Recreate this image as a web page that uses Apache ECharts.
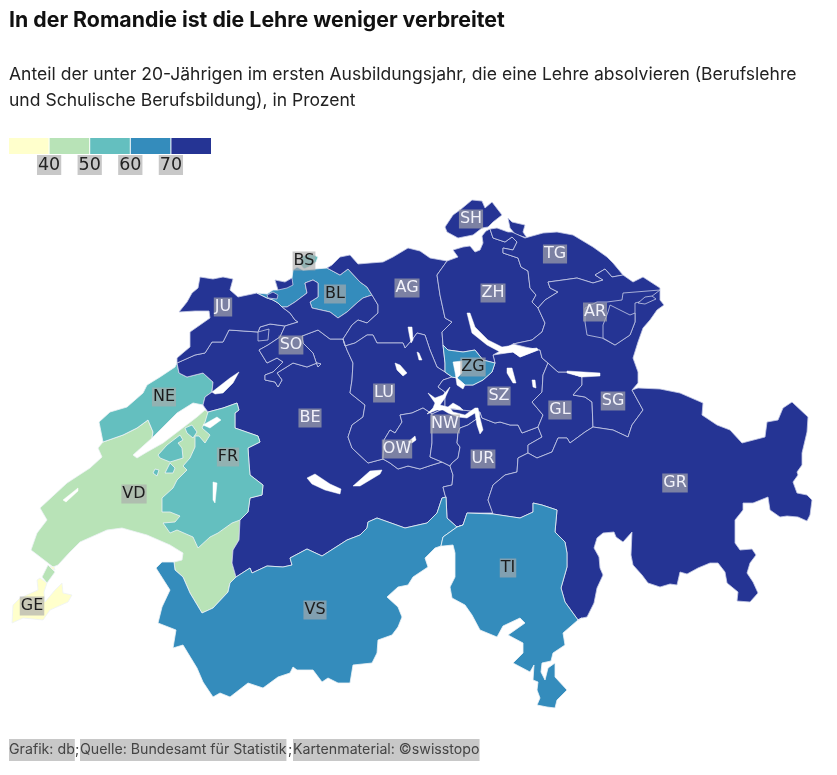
<!DOCTYPE html>
<html><head><meta charset="utf-8">
<style>html,body{margin:0;padding:0;background:#fff}#c{width:837px;height:775px}</style>
<script src="https://cdn.jsdelivr.net/npm/echarts@6/dist/echarts.min.js"></script>
</head><body><div id="c"></div>
<script>
// ---- data ----
const cantons = ['GE','VD','NE','FR','BS','BL','VS','TI','ZG','JU','SO','BE','AG','LU','OW','NW','UR','SZ','GL','ZH','SH','TG','SG','AR','GR'];
const shares  = [  37,  46,  55,  56,  57,  66,  67,  66,  68,  74,  76,  78,  76,  77,  78,  78,  80,  76,  78,  72,  77,  79,  78,  78,  77];
const thresholds = [40, 50, 60, 70];
const tickLabels = ['40','50','60','70'];
const palette = ['#ffffcc','#b8e3b7','#64bfbf','#348cbc','#253494'];
const darkLabels = ['JU','SO','BE','AG','LU','OW','NW','UR','SZ','GL','ZH','SH','TG','SG','AR','GR'];

// ---- label anchors of the cantons (map units) ----
const anchors = {GE:[32,606],VD:[134,494],NE:[164,397],FR:[228,457],BS:[304,261],BL:[335,294],VS:[315,610],TI:[508,568],ZG:[473,367],
 JU:[223,307],SO:[291,345],BE:[310,418],AG:[407,288],LU:[384,393],OW:[397,449],NW:[445,424],UR:[483,459],SZ:[499,396],GL:[560,410],
 ZH:[493,293],SH:[471,219],TG:[555,254],SG:[613,401],AR:[595,312],GR:[675,483]};

// ---- outline of the map (shared borders) ----
const P = s => s.trim().split(/\s+/).map(p => p.split(',').map(Number));
const R = a => a.slice().reverse();
const ju_out = P('177,363 177,358 184,352 190,347 190,332 200,325 210,318 209,311 195,311 179,312 187,302 192,293 198,288 200,277 213,279 223,277 233,279 230,290 238,297 257,293');
const ju_east = P('257,293 267,298 273,300 278,303 282,307 290,313 295,320 298,322 285,326');
const ju_be = P('285,326 270,324 260,327 258,332 229,330 223,342 212,342 205,353 195,355 177,363');
const so_be = P('285,326 280,337 268,345 259,350 267,363 277,358 283,362 273,372 265,375 265,380 275,382 278,387 282,380 277,373 293,363 307,367 317,363 321,364 318,367 316,362 313,353 303,343 302,336 318,330 330,339 343,339');
const bl_south = P('372,295 363,298 358,302 347,312 338,318 330,312 312,308 310,302 318,297 318,283 313,280 305,283 307,293 295,302 287,307 282,307');
const ag_bl = P('327,268 340,275 348,269 360,282 367,287 372,295');
const so_ag = P('372,295 378,305 378,313 367,323 358,320 352,325 343,339');
const ag_out = P('327,268 332,265 340,257 350,255 358,264 370,263 383,262 393,257 408,248 420,251 430,258 447,261');
const ag_zh = P('447,261 437,275 440,295 445,318 452,322 442,332 443,345');
const ag_lu = P('343,339 345,346 355,343 367,335 373,335 377,343 390,343 403,343 405,348 412,340 417,333 425,335 430,350 437,367 445,372');
const zg_top = P('443,345 448,350 463,352 475,350 483,360 495,363');
const zg_west = P('443,345 445,363 445,372 452,377');
const zg_south = P('495,363 492,372 483,380 473,385 465,385 457,378 452,377');
const lu_be = P('343,339 347,350 353,363 352,380 350,393 365,405 363,417 352,425 348,437 352,448 368,463 383,459');
const lu_ow = P('383,459 384,440 390,430 395,433 402,422 400,415 412,413 423,408 432,414');
const lu_sz = P('452,377 443,380 438,387 445,392 445,408');
const ow_be = P('383,459 390,463 398,469 408,466 420,469 432,465 442,462 450,466');
const ow_nw = P('432,414 432,443 430,457 442,462');
const nw_top = P('432,414 445,408 462,410 480,412');
const nw_ur = P('480,412 478,418 468,425 460,428 458,433 457,443 460,447 458,458 452,463 450,466');
const ur_be = P('450,466 453,475 452,485 443,487 445,495 446,497');
const ur_vs = P('446,497 447,518 457,527 463,525');
const sz_ur = P('480,412 482,418 495,423 500,422 510,425 518,425 522,433 538,427');
const ur_gl = P('538,427 542,437 528,445 528,453');
const ur_gr = P('528,453 518,458 517,472 505,475 493,485 488,500 493,513');
const gl_gr = P('528,453 537,458 552,452 558,438 567,438 570,443 585,432 593,427');
const sg_gr = P('593,427 613,430 628,437 632,425 643,410 632,390');
const gl_sg = P('593,427 592,402 585,397 573,395 582,385 582,377 567,372 558,372 548,363');
const sz_gl = P('538,427 543,415 532,402 542,392 543,375 548,363');
const sz_sg = P('548,363 542,358 540,350');
const lake_sz = P('540,350 538,350 520,357 513,352 493,355 495,363');
const sg_lake = P('540,350 525,347 513,344');
const zh_lake = P('513,344 502,350 493,355 495,363');
const zh_sg = P('538,308 545,323 542,332 532,340 513,344');
const zh_tg = P('490,229 493,238 505,242 512,237 517,242 513,250 503,248 503,253 518,258 521,267 528,271 530,288 536,295 532,302 538,308');
const zh_out = P('447,261 458,257 453,250 463,247 470,246 475,252 480,250 483,243 482,236 486,231 490,229');
const tg_out = P('490,229 497,228 508,232 512,232 525,238 543,233 557,232 573,235 593,247 607,257 613,263 623,275');
const tg_sg = P('538,308 545,300 558,292 550,288 548,282 563,280 577,278 593,283 603,280 595,275 605,269 612,277 623,275');
const sg_out = P('623,275 633,282 643,277 660,288 660,300 664,305 657,310 650,320 643,328 638,342 633,358 638,372 638,383 632,390');
const gr_out = P('632,390 638,388 660,389 680,393 703,403 702,415 717,425 730,430 742,443 765,437 767,422 778,420 783,408 792,402 808,417 807,432 802,453 802,465 797,472 798,475 793,482 797,493 807,495 812,500 810,515 807,521 798,517 787,516 780,517 770,510 768,497 763,499 753,503 743,503 743,510 735,520 735,543 740,550 752,549 756,555 750,563 747,573 753,582 758,593 750,602 737,601 738,592 727,583 725,572 718,563 710,563 698,568 687,574 680,572 677,585 670,584 660,587 648,583 642,575 633,565 631,555 632,532 623,542 616,537 614,532 603,533 597,538 594,548 599,557 600,568 603,575 597,588 594,603 587,617 582,618');
const ti_gr = P('582,618 578,620 565,602 561,588 567,567 567,553 565,542 555,532 557,510 542,505 533,503 533,512 520,518 493,514 493,513');
const ti_top = P('493,513 467,513 463,525');
const ti_out = P('578,620 563,633 565,645 553,653 551,661 542,663 541,672 545,680 548,668 555,663 555,677 567,690 557,700 555,708 547,707 537,705 540,698 537,690 538,682 533,680 534,665 530,672 513,663 523,653 523,643 508,635 525,623 520,618 503,626 497,637 480,630 472,615 465,605 452,598 450,587 455,577 455,553 453,545 443,546 441,546');
const ti_vs = P('441,546 443,537 457,527');
const vs_out = P('441,546 435,548 425,558 428,567 413,577 408,585 398,587 387,597 398,607 402,617 398,627 392,635 378,640 377,653 372,663 353,665 350,683 338,683 328,678 322,682 313,670 297,670 293,667 290,673 278,677 263,688 248,683 230,697 220,693 213,697 203,682 197,668 183,645 173,648 176,630 158,623 162,607 170,590 156,568 162,562 174,562');
const vs_vd = P('174,562 175,570 183,577 190,593 202,613 213,608 228,592 230,583 236,577');
const vs_be = P('236,577 250,568 252,573 267,566 283,567 292,565 290,558 307,549 322,556 347,540 360,535 367,528 368,522 377,518 405,528 427,523 437,513 442,498 446,497');
const vd_be = P('236,577 232,563 233,550 239,540 240,520');
const fr_be = P('240,520 248,512 250,498 262,495 263,485 250,475 249,463 248,448 260,442 258,436 235,428 235,413 239,410 237,403 223,408 208,412');
const fr_vd = P('240,520 232,523 218,533 210,537 198,548 193,537 177,530 170,533 163,523 175,522 180,516 170,512 162,512 162,498 173,488 177,480 187,470 183,466 190,458 195,447 195,436 199,436 205,443 210,435 202,428 205,422 208,412');
const be_ne = P('208,412 205,408 203,405 205,397 212,392 213,382 203,373 187,377 179,373 177,363');
const ne_lake = P('203,405 193,403 177,413 167,423 157,433 152,438');
const ne_west = P('177,363 175,367 160,377 147,385 143,393 127,407 110,412 99,422 103,442');
const ne_vd = P('103,442 123,435 137,428 148,420 153,432 152,438');
const vd_out = P('103,442 98,448 102,457 90,468 67,483 40,508 47,520 37,533 31,550 48,563 53,567 58,565 70,552 80,542 107,530 122,528 147,535 170,545 183,553 182,560 174,562');
const vd_lake = P('152,438 133,455 137,458 147,452 163,443 180,430 197,417 205,410 208,412');

const shapes = {
 VD:[[...vd_out,...vs_vd.slice(1),...vd_be.slice(1),[215,470],...R(vd_lake),...R(ne_vd).slice(1)], P('42,577 48,565 55,572 47,583')],
 GE:[P('40,578 47,583 44,592 45,602 55,590 62,583 63,593 72,595 68,602 50,610 43,620 23,618 12,623 13,605 20,598 38,590 37,580'), P('50,566 54,567 55,570 52,569')],
 NE:[[...ne_west,...ne_vd.slice(1),...R(ne_lake).slice(1),...P('205,397 212,392 213,382 203,373 187,377 179,373 177,363')]],
 FR:[[...R(fr_be),...fr_vd.slice(1)], P('158,455 167,445 180,435 183,440 178,443 182,448 183,458 170,462 160,458'), P('185,428 192,425 197,432 193,438 187,433'), P('170,463 175,468 173,473 165,473'), P('155,469 159,470 157,476 153,473')],
 BE:[[...R(ju_be),...so_be.slice(1),...lu_be.slice(1),...ow_be.slice(1),...ur_be.slice(1),...R(vs_be).slice(1),...vd_be.slice(1),...fr_be.slice(1),...be_ne.slice(1)], P('219,427 221,427 221,430 219,430')],
 JU:[[...ju_out,...ju_east.slice(1),...ju_be.slice(1)]],
 BL:[[...P('257,293 267,294 273,290 278,290 275,280 285,282 292,278 293,270 297,267 303,270'),...ag_bl,...bl_south.slice(1),...P('278,303 273,300 267,298 257,293')]],
 BS:[P('302,256 312,254 318,257 316,262 311,266 304,269 300,264')],
 SO:[[...R(ju_east).slice(0,5),...R(bl_south).slice(1),...so_ag.slice(1),...R(so_be).slice(1)], P('258,332 269,329 268,340 258,341'), P('275,280 285,282 292,278 293,285 287,288 278,290'), P('267,295 273,292 278,295 277,299 268,298')],
 AG:[[...ag_out,...ag_zh.slice(1),...zg_west.slice(1,3),...R(ag_lu).slice(1),...R(so_ag).slice(1),...R(ag_bl).slice(1)]],
 LU:[[...ag_lu,[452,377],...lu_sz.slice(1),...R(lu_ow),...R(lu_be).slice(1)]],
 OW:[[...lu_ow,...ow_nw.slice(1),...R(ow_be).slice(1)], P('438,440 440,443 447,442 455,445 460,447 458,458 452,463 445,460 440,455')],
 NW:[[...nw_top,...nw_ur.slice(1),[442,462],...R(ow_nw).slice(1)]],
 UR:[[...sz_ur,...ur_gl.slice(1),...ur_gr.slice(1),...ti_top.slice(1),...R(ur_vs).slice(1),...R(ur_be).slice(1),...R(nw_ur).slice(1)]],
 SZ:[[...R(zg_south),...R(lake_sz).slice(1),...R(sz_sg).slice(1),...R(sz_gl).slice(1),...R(sz_ur).slice(1),[462,410],...R(lu_sz)]],
 GL:[[...R(gl_sg),...R(gl_gr).slice(1),...R(ur_gl).slice(1),...sz_gl.slice(1)]],
 ZH:[[...zh_out,...zh_tg.slice(1),...zh_sg.slice(1),...zh_lake.slice(1),...R(zg_top).slice(1),...R(ag_zh).slice(1)]],
 SH:[P('445,227 453,215 460,210 472,200 482,201 485,208 492,202 502,215 493,222 488,227 482,228 473,235 458,238 447,232'), P('508,218 512,222 525,225 523,232 527,238 515,234 510,228')],
 TG:[[...tg_out,...R(tg_sg).slice(1),...R(zh_tg).slice(1)]],
 SG:[[...tg_sg,...sg_out.slice(1),...R(sg_gr).slice(1),...gl_sg.slice(1),...sz_sg.slice(1),...sg_lake.slice(1),...R(zh_sg).slice(1)]],
 AR:[P('585,308 597,302 607,302 622,300 623,293 660,290 647,300 635,303 635,322 630,335 615,345 602,338 587,335 585,322')],
 AI:[P('610,305 630,315 635,313 635,322 630,335 615,345 603,338 603,325 608,312'), P('638,303 645,297 652,296 656,299 645,304')],
 GR:[[...gr_out,...ti_gr.slice(1),...R(ur_gr).slice(1),...gl_gr.slice(1),...sg_gr.slice(1)]],
 VS:[[...vs_out,...vs_vd.slice(1),...vs_be.slice(1),...ur_vs.slice(1),...R(ti_vs)]],
 TI:[[...ti_gr,...ti_top.slice(1),...R(ti_vs),...R(ti_out).slice(1)]],
 ZG:[[...zg_top,...zg_south.slice(1),...R(zg_west).slice(1)]]
};
const lakes = [
 P('467,313 470,313 475,327 488,340 502,347 515,345 520,350 537,348 538,350 520,357 513,352 502,353 487,345 472,333'),
 P('567,371 600,373 600,376 582,377 567,373'),
 P('507,368 512,368 516,383 513,383 507,373'),
 P('532,380 535,380 536,388 533,387'),
 P('395,363 400,365 407,373 403,376 397,370'),
 P('408,327 412,327 413,340 411,343 409,333'),
 P('417,352 419,353 422,360 419,360'),
 P('353,486 370,471 382,470 380,474 360,486'),
 P('307,478 315,474 330,484 341,489 340,494 325,490 312,484'),
 P('408,442 415,436 416,440 412,443'),
 P('453,362 462,361 462,373 457,378 465,385 463,389 457,385 455,372'),
 P('450,387 443,395 435,398 428,393 435,403 433,408 427,414 437,410 443,410 448,413 458,417 467,418 475,413 477,425 480,434 483,430 480,418 478,408 475,408 465,415 453,412 450,408 463,410 460,407 453,403 448,407 440,405 445,398'),
 P('212,392 230,378 239,372 233,383 223,393 215,394'),
 P('203,425 217,417 221,420 210,428'),
 P('213,482 217,483 215,503 213,500'),
 P('63,500 78,488 78,491 66,502')
];

const order = ['VD','GE','NE','BE','FR','JU','BL','BS','SO','AG','LU','OW','NW','UR','SZ','GL','ZH','SH','TG','SG','AR','AI','GR','VS','TI','ZG'];
const close = r => (r[0][0]===r[r.length-1][0] && r[0][1]===r[r.length-1][1]) ? r : [...r, r[0]];
const geo = {type:'FeatureCollection',features:[
 ...order.map(n => ({type:'Feature',properties:{name:n,cp:anchors[n]},
   geometry:{type:'MultiPolygon',coordinates:shapes[n].map(r=>[close(r)])}})),
 {type:'Feature',properties:{name:'Seen'},geometry:{type:'MultiPolygon',coordinates:lakes.map(r=>[close(r)])}}
]};
echarts.registerMap('ch',geo);

const colorOf = v => { let i=0; while(i<thresholds.length && v>=thresholds[i]) i++; return palette[i]; };
const seriesData = [
 ...cantons.map((n,i)=>({name:n,value:shares[i],
   itemStyle:{areaColor:colorOf(shares[i]),borderColor:darkLabels.includes(n)?'#c6cce6':'#eef2f6'},
   label:{show:true,color:darkLabels.includes(n)?'#f2f2fa':'#1c1c1c'}})),
 {name:'AI',value:78,itemStyle:{areaColor:colorOf(78)},label:{show:false}},
 {name:'Seen',value:null,itemStyle:{areaColor:'#fff',borderColor:'#fff',borderWidth:.5},label:{show:false}}
];

const ui = 'Inter';
const chart = echarts.init(document.getElementById('c'),null,{renderer:'canvas',width:837,height:775});
const x0=9,legW=40.6,legY=138;
const legend=[];
palette.forEach((c,i)=>legend.push({type:'rect',silent:true,shape:{x:x0+i*legW,y:legY,width:legW-1,height:16},style:{fill:c}}));
tickLabels.forEach((t,i)=>legend.push({type:'text',silent:true,x:x0+(i+1)*legW-.5,y:165,
 style:{text:t,fill:'#222',font:'17.5px "DejaVu Sans"',align:'center',verticalAlign:'middle',backgroundColor:'#c8c8c8',padding:[1,1,1,1]}}));
const foot=(x,t,bg)=>({type:'text',silent:true,x,y:750,style:{text:t,fill:'#444',font:'14.2px '+ui,verticalAlign:'middle',backgroundColor:bg?'#c8c8c8':'transparent',padding:[4,0,4,0]}});
chart.setOption({
 animation:false,
 title:{text:'In der Romandie ist die Lehre weniger verbreitet',left:9,top:10,padding:0,
   textStyle:{fontFamily:ui,fontSize:21.3,fontWeight:700,color:'#111'},
   subtext:'Anteil der unter 20-Jährigen im ersten Ausbildungsjahr, die eine Lehre absolvieren (Berufslehre\nund Schulische Berufsbildung), in Prozent',
   itemGap:31,subtextStyle:{fontFamily:ui,fontSize:17.55,color:'#222',lineHeight:26}},
 graphic:[...legend,foot(9,'Grafik: db',1),foot(75,';'),foot(80,'Quelle: Bundesamt für Statistik',1),foot(288,';'),foot(293,'Kartenmaterial: ©swisstopo',1)],
 series:[{type:'map',map:'ch',silent:true,left:0,top:0,width:837,height:775,aspectScale:1,
   boundingCoords:[[0,0],[837,775]],
   projection:{project:p=>p,unproject:p=>p},
   selectedMode:false,
   itemStyle:{areaColor:'#253494',borderColor:'#c6cce6',borderWidth:.8},
   emphasis:{disabled:true},
   label:{show:false,fontFamily:'DejaVu Sans',fontSize:16,backgroundColor:'rgba(170,170,170,0.65)',padding:[2,1,2,1],lineHeight:15},
   data:seriesData}]
});
</script></body></html>
